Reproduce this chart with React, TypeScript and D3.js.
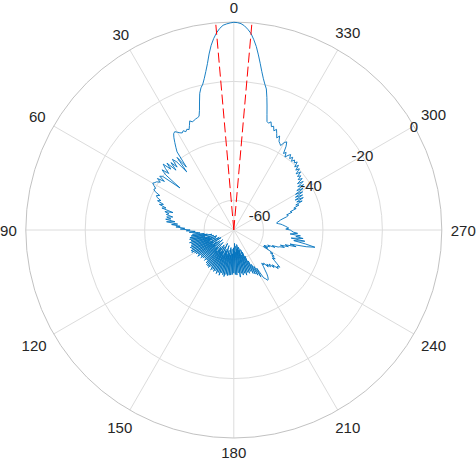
import React, { useRef, useEffect } from 'react';
import * as d3 from 'd3';

// measured pattern, dB, one value per degree (0..359), angle counter-clockwise from top
const patternDb: number[] = [
  // 0-17 main lobe, left flank
  -0.1, -0.3, -0.6, -1.0, -2.0, -3.4, -5.2, -7.4, -10.2, -13.3,
  -15.8, -18.0, -19.8, -20.9, -22.6, -25.4, -28.1, -30.0,
  // 18-64
  -30.3, -30.5, -30.8, -31.0, -30.4, -31.8, -33.0, -32.6, -33.2, -32.5,
  -33.0, -32.6, -32.0, -31.4, -31.8, -33.0, -34.5, -36.0, -37.5, -43.5,
  -39.0, -44.8, -40.0, -38.5, -41.5, -39.0, -42.0, -38.2, -40.5, -37.5,
  -39.0, -41.0, -38.5, -40.5, -47.0, -40.0, -39.2, -41.5, -39.0, -40.5,
  -39.4, -39.0, -38.5, -39.3, -40.2, -39.8, -40.6,
  // 65-94
  -42.5, -41.5, -42.0, -43.5, -42.5, -44.8, -43.5, -46.0, -44.7, -48.7,
  -46.0, -47.5, -46.7, -49.0, -47.0, -48.5, -46.8, -50.0, -47.2, -51.0,
  -49.0, -51.9, -50.5, -53.5, -52.0, -55.3, -54.0, -57.0, -55.0, -58.0,
  // 95-179 dense back lobes
  -58.6, -56.0, -60.0, -55.5, -61.0, -55.0, -62.5, -54.8, -60.0, -55.2,
  -63.0, -54.5, -61.5, -55.0, -64.0, -54.8, -62.0, -54.2, -63.5, -54.5,
  -61.0, -54.0, -64.5, -54.0, -62.0, -54.8, -65.0, -55.0, -61.5, -55.5,
  -63.0, -55.0, -64.0, -56.0, -62.0, -55.5, -65.0, -56.0, -61.5, -56.4,
  -63.5, -55.8, -62.0, -56.4, -64.5, -55.5, -61.0, -55.2, -63.0, -55.0,
  -62.5, -54.8, -64.0, -55.5, -61.5, -54.6, -63.5, -55.0, -62.0, -54.5,
  -65.0, -55.0, -61.0, -54.2, -63.0, -54.8, -62.5, -54.0, -64.5, -55.0,
  -61.5, -54.5, -63.0, -54.0, -62.0, -54.8, -64.0, -54.5, -61.5, -54.7,
  -63.5, -54.8, -62.0, -55.0, -64.0,
  // 180-239
  -55.5, -63.0, -55.0, -65.5, -54.8, -62.5, -55.5, -64.5, -54.0, -63.5,
  -55.2, -65.0, -54.5, -63.0, -55.0, -64.0, -54.2, -61.2, -55.0, -63.0,
  -54.5, -62.0, -55.0, -60.5, -54.0, -58.5, -53.5, -57.0, -52.8, -56.0,
  -51.8, -55.0, -51.0, -50.5, -49.6, -49.8, -50.5, -51.5, -53.0, -54.1,
  -55.4, -54.5, -55.0, -53.0, -54.0, -52.5, -53.5, -51.5, -52.5, -50.2,
  -51.0, -50.1, -51.5, -52.8, -54.0, -53.0, -54.5, -53.8, -55.5, -54.6,
  // 240-299
  -56.0, -58.6, -57.0, -58.6, -57.5, -56.7, -57.5, -55.0, -56.0, -54.0,
  -53.5, -52.0, -53.5, -50.8, -52.0, -48.3, -50.5, -45.0, -42.1, -45.5,
  -49.5, -45.8, -50.5, -46.5, -49.0, -47.5, -51.0, -48.5, -50.0, -50.5,
  -51.0, -52.5, -51.5, -52.0, -52.5, -53.0, -53.5, -54.0, -54.8, -55.4,
  -55.2, -54.5, -54.0, -53.0, -51.7, -51.0, -51.5, -49.5, -50.0, -47.8,
  -48.5, -46.5, -47.5, -45.0, -46.8, -44.2, -47.0, -44.0, -46.5, -43.5,
  // 300-359 right flank, main lobe
  -46.0, -42.8, -45.0, -42.0, -44.0, -41.5, -43.5, -41.2, -42.5, -41.0,
  -42.0, -40.2, -41.8, -39.8, -41.0, -39.2, -40.5, -38.7, -39.6, -38.8,
  -39.8, -38.5, -39.5, -38.2, -39.0, -40.0, -38.5, -39.3, -36.8, -35.4,
  -36.0, -37.5, -37.0, -36.5, -34.8, -35.8, -34.5, -33.2, -34.0, -32.6,
  -33.0, -31.5, -32.2, -31.8, -29.5, -26.8, -24.0, -21.3, -19.8, -18.0,
  -15.8, -13.2, -10.5, -7.8, -5.6, -3.6, -2.3, -1.2, -0.5, -0.2,
];

// beam edge markers (dashed red), degrees
const beamEdges: number[] = [5, 355];

const angleTicks: number[] = [0, 30, 60, 90, 120, 150, 180, 210, 240, 270, 300, 330];
const rTicks: number[] = [-60, -40, -20, 0];
const rLim: [number, number] = [-70, 0];
const rLabelAngle = 300;

const W = 476;
const H = 462;

const plot = (svgRef: React.RefObject<SVGSVGElement | null>) => {
  const svgEl = d3.select(svgRef.current);
  svgEl.selectAll('*').remove();

  const cx = 233.8;
  const cy = 230;
  const R = 208;
  const fontSize = 15;

  const rScale = d3.scaleLinear().domain(rLim).range([0, R]).clamp(true);
  const toRad = (deg: number) => (deg * Math.PI) / 180;
  // counter-clockwise from top
  const px = (deg: number, r: number) => cx - r * Math.sin(toRad(deg));
  const py = (deg: number, r: number) => cy - r * Math.cos(toRad(deg));

  // label distance: gap + half of the text box in the label's direction
  const labelR = (d: number) => {
    const halfW = (String(d).length * 0.556 * fontSize) / 2;
    const halfH = 5.5;
    return R + 9 + Math.abs(Math.sin(toRad(d))) * halfW + Math.abs(Math.cos(toRad(d))) * halfH;
  };

  const g = svgEl.append('g');

  // rings
  g.selectAll('circle.ring')
    .data(rTicks.filter((t) => t < rLim[1]))
    .enter()
    .append('circle')
    .attr('cx', cx)
    .attr('cy', cy)
    .attr('r', (d) => rScale(d))
    .attr('fill', 'none')
    .attr('stroke', '#dcdcdc')
    .attr('stroke-width', 1);

  // spokes
  g.selectAll('line.spoke')
    .data(angleTicks)
    .enter()
    .append('line')
    .attr('x1', cx)
    .attr('y1', cy)
    .attr('x2', (d) => px(d, R))
    .attr('y2', (d) => py(d, R))
    .attr('stroke', '#dcdcdc')
    .attr('stroke-width', 1);

  // outer edge
  g.append('circle')
    .attr('cx', cx)
    .attr('cy', cy)
    .attr('r', R)
    .attr('fill', 'none')
    .attr('stroke', '#c2c2c2')
    .attr('stroke-width', 1);

  // angle labels
  g.selectAll('text.ang')
    .data(angleTicks)
    .enter()
    .append('text')
    .attr('x', (d) => px(d, labelR(d)))
    .attr('y', (d) => py(d, labelR(d)))
    .attr('text-anchor', 'middle')
    .attr('dominant-baseline', 'central')
    .attr('font-family', 'Liberation Sans, Arial, sans-serif')
    .attr('font-size', fontSize)
    .attr('fill', '#262626')
    .text((d) => `${d}`);

  // pattern line
  const line = d3
    .lineRadial<number>()
    .angle((d, i) => -toRad(i))
    .radius((d) => rScale(d));

  g.append('path')
    .datum([...patternDb, patternDb[0]])
    .attr('transform', `translate(${cx},${cy})`)
    .attr('fill', 'none')
    .attr('stroke', '#0072BD')
    .attr('stroke-width', 0.9)
    .attr('stroke-linejoin', 'round')
    .attr('d', line);

  // beam edge lines
  g.selectAll('line.beam')
    .data(beamEdges)
    .enter()
    .append('line')
    .attr('x1', cx)
    .attr('y1', cy)
    .attr('x2', (d) => px(d, rScale(rLim[1])))
    .attr('y2', (d) => py(d, rScale(rLim[1])))
    .attr('stroke', '#ff0000')
    .attr('stroke-width', 1)
    .attr('stroke-dasharray', '10,4');

  // radial labels
  g.selectAll('text.rlab')
    .data(rTicks)
    .enter()
    .append('text')
    .attr('x', (d) => px(rLabelAngle, rScale(d)))
    .attr('y', (d) => py(rLabelAngle, rScale(d)))
    .attr('text-anchor', 'middle')
    .attr('dominant-baseline', 'central')
    .attr('font-family', 'Liberation Sans, Arial, sans-serif')
    .attr('font-size', fontSize)
    .attr('fill', '#262626')
    .text((d) => `${d}`);
};

export default function App() {
  const svgRef = useRef<SVGSVGElement>(null);

  useEffect(() => {
    plot(svgRef);
  }, []);

  return (
    <svg
      ref={svgRef}
      width={W}
      height={H}
      style={{ position: 'absolute', left: 0, top: 0, background: '#fff' }}
    />
  );
}
